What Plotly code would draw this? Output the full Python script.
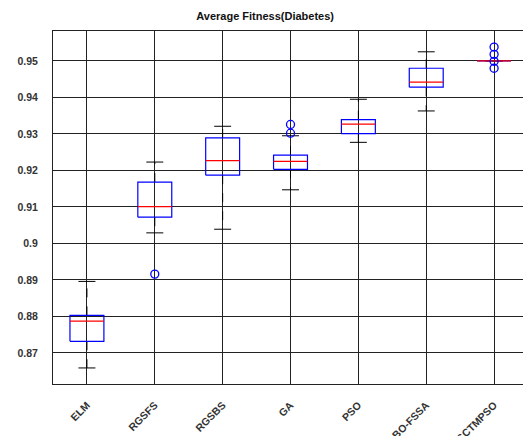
import plotly.graph_objects as go

# Box-plot summaries of average fitness on the Diabetes dataset
methods = ["ELM", "RGSFS", "RGSBS", "GA", "PSO", "BO-FSSA", "SCTMPSO"]
lower_whisker = [0.8659, 0.9029, 0.9039, 0.9147, 0.9277, 0.9363, 0.9500]
q1 = [0.8732, 0.9072, 0.9187, 0.9203, 0.9301, 0.9428, 0.9500]
median = [0.8787, 0.9101, 0.9227, 0.9225, 0.9327, 0.9442, 0.9500]
q3 = [0.8803, 0.9168, 0.9289, 0.9242, 0.9339, 0.9480, 0.9500]
upper_whisker = [0.8896, 0.9223, 0.9321, 0.9295, 0.9395, 0.9525, 0.9500]
outliers = [[], [0.8916], [], [0.9326, 0.9302], [], [],
            [0.9538, 0.9518, 0.9499, 0.9480]]
y_ticks = [0.87, 0.88, 0.89, 0.90, 0.91, 0.92, 0.93, 0.94, 0.95]
y_tick_text = ["0.87", "0.88", "0.89", "0.9", "0.91", "0.92", "0.93", "0.94", "0.95"]

FONT = "Liberation Sans, Arial, sans-serif"
BOX_HALF = 0.25
CAP_HALF = 0.125

box_x, box_y = [], []
med_x, med_y = [], []
wh_x, wh_y = [], []
cap_x, cap_y = [], []
out_x, out_y = [], []
for i in range(len(methods)):
    c = i + 1
    box_x += [c - BOX_HALF, c + BOX_HALF, c + BOX_HALF, c - BOX_HALF, c - BOX_HALF, None]
    box_y += [q1[i], q1[i], q3[i], q3[i], q1[i], None]
    med_x += [c - BOX_HALF, c + BOX_HALF, None]
    med_y += [median[i], median[i], None]
    wh_x += [c, c, None, c, c, None]
    wh_y += [q3[i], upper_whisker[i], None, q1[i], lower_whisker[i], None]
    cap_x += [c - CAP_HALF, c + CAP_HALF, None, c - CAP_HALF, c + CAP_HALF, None]
    cap_y += [upper_whisker[i], upper_whisker[i], None, lower_whisker[i], lower_whisker[i], None]
    for v in outliers[i]:
        out_x.append(c)
        out_y.append(v)

fig = go.Figure()
fig.add_trace(go.Scatter(x=wh_x, y=wh_y, mode="lines",
                         line=dict(color="black", width=1, dash="dash"),
                         hoverinfo="skip"))
fig.add_trace(go.Scatter(x=cap_x, y=cap_y, mode="lines",
                         line=dict(color="black", width=1), hoverinfo="skip"))
fig.add_trace(go.Scatter(x=box_x, y=box_y, mode="lines",
                         line=dict(color="blue", width=1.2), hoverinfo="skip"))
fig.add_trace(go.Scatter(x=med_x, y=med_y, mode="lines",
                         line=dict(color="red", width=1.2), hoverinfo="skip"))
fig.add_trace(go.Scatter(x=out_x, y=out_y, mode="markers",
                         marker=dict(symbol="circle-open", size=8,
                                     color="blue", line=dict(width=1.3)),
                         hoverinfo="skip"))

fig.update_layout(
    width=523, height=436,
    margin=dict(l=53, r=0, t=31, b=52),
    paper_bgcolor="white", plot_bgcolor="white",
    showlegend=False,
    font=dict(family=FONT, color="#333333"),
    title=dict(text="<b>Average Fitness(Diabetes)</b>", x=0.507, xref="container",
               xanchor="center", y=0.962, yanchor="middle",
               font=dict(size=11, color="#111111", family=FONT)),
)
fig.update_xaxes(
    range=[0.5, 7.426], tickmode="array",
    tickvals=list(range(1, len(methods) + 1)),
    ticktext=["<b>%s</b>" % m for m in methods],
    tickangle=-45, tickfont=dict(size=10.5, color="#333333"),
    showgrid=True, gridcolor="#222222", gridwidth=1,
    showline=True, linecolor="#222222", linewidth=1, mirror=True,
    ticks="", ticklabelstandoff=10, zeroline=False, automargin=False,
)
fig.update_yaxes(
    range=[0.8615, 0.9582], tickmode="array",
    tickvals=y_ticks, ticktext=["<b>%s</b>" % t for t in y_tick_text],
    tickfont=dict(size=10.5, color="#333333"),
    showgrid=True, gridcolor="#222222", gridwidth=1,
    showline=True, linecolor="#222222", linewidth=1,
    ticks="", ticklabelstandoff=12, zeroline=False, automargin=False,
)

fig.write_html("out.html")
